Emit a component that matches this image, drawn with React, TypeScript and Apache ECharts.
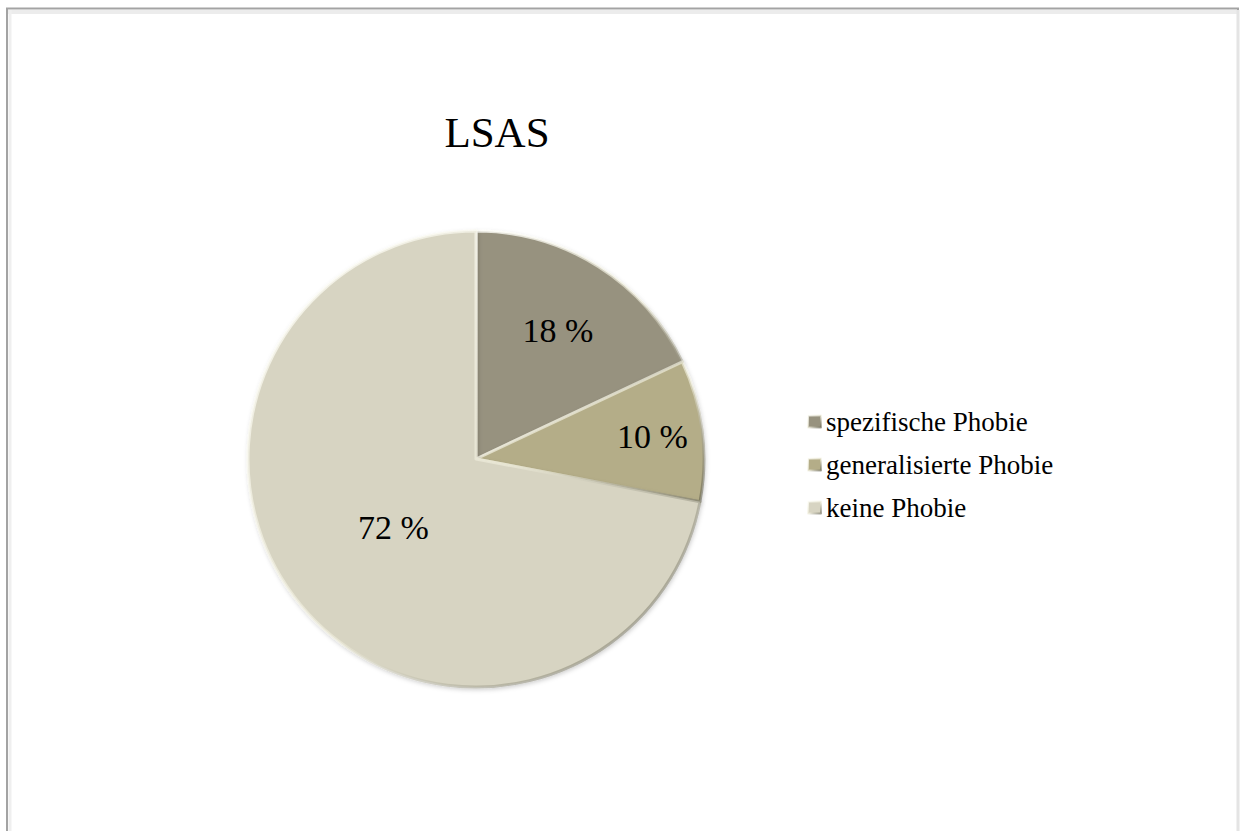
import React, { useEffect, useRef } from "react";
import * as echarts from "echarts";

const categories = ["spezifische Phobie", "generalisierte Phobie", "keine Phobie"];
const shares = [18, 10, 72];
const sliceColors = ["#97927f", "#b4ad88", "#d7d4c2"];
const chartTitle = "LSAS";

const SERIF = '"Liberation Serif", "Times New Roman", serif';
const CENTER: [number, number] = [476, 459];
const RADIUS = 228;
// how far out along each slice's bisector its percentage label sits (fraction of radius)
const labelRadiusFractions = [0.67, 0.78, 0.47];

export default function App() {
  const ref = useRef<HTMLDivElement>(null);

  useEffect(() => {
    if (!ref.current) return;
    const chart = echarts.init(ref.current, undefined, { renderer: "svg" });
    const total = shares.reduce((a, b) => a + b, 0);

    const midAngle = (i: number) => {
      let before = 0;
      for (let k = 0; k < i; k++) before += shares[k];
      const frac = (before + shares[i] / 2) / total;
      return ((90 - 360 * frac) * Math.PI) / 180;
    };

    chart.setOption({
      animation: false,
      backgroundColor: "#ffffff",
      title: {
        text: chartTitle,
        left: 492,
        top: 106,
        textAlign: "center",
        textStyle: { fontFamily: SERIF, fontSize: 43, fontWeight: "normal", color: "#000" },
      },
      legend: {
        orient: "vertical",
        left: 807,
        top: 406,
        padding: 0,
        icon: "rect",
        itemWidth: 13,
        itemHeight: 12,
        itemGap: 12,
        data: categories,
        textStyle: { fontFamily: SERIF, fontSize: 27, color: "#000", lineHeight: 31 },
      },
      graphic: [
        {
          type: "rect",
          shape: { x: 7, y: 8.5, width: 1231, height: 840 },
          style: { fill: "none", stroke: "#a3a3a3", lineWidth: 2 },
          silent: true,
        },
        {
          type: "line",
          shape: { x1: 8, y1: 12, x2: 1238, y2: 12 },
          style: { stroke: "#ececec", lineWidth: 4 },
          silent: true,
        },
        {
          type: "line",
          shape: { x1: 10, y1: 10, x2: 10, y2: 831 },
          style: { stroke: "#efefef", lineWidth: 3 },
          silent: true,
        },
        {
          type: "line",
          shape: { x1: 1238, y1: 10, x2: 1238, y2: 831 },
          style: { stroke: "#e4e4e4", lineWidth: 3 },
          silent: true,
        },
      ],
      series: [
        {
          type: "pie",
          center: CENTER,
          radius: RADIUS,
          startAngle: 90,
          clockwise: true,
          avoidLabelOverlap: false,
          data: categories.map((name, i) => ({
            name,
            value: shares[i],
            itemStyle: { color: sliceColors[i] },
          })),
          itemStyle: {
            borderWidth: 3,
            borderColor: new echarts.graphic.LinearGradient(0, 0, 1, 1, [
              { offset: 0, color: "rgba(255,255,250,0.8)" },
              { offset: 0.55, color: "rgba(240,238,220,0.6)" },
              { offset: 1, color: "rgba(80,78,60,0.5)" },
            ]),
            shadowBlur: 4,
            shadowColor: "rgba(0,0,0,0.2)",
            shadowOffsetX: 1,
            shadowOffsetY: 2,
          },
          label: {
            show: true,
            position: "inside",
            formatter: (p: any) => `${p.value} %`,
            fontFamily: SERIF,
            fontSize: 34,
            color: "#000",
          },
          labelLine: { show: false },
          labelLayout: (p: any) => {
            const i = p.dataIndex;
            const a = midAngle(i);
            const r = RADIUS * labelRadiusFractions[i];
            return {
              x: CENTER[0] + r * Math.cos(a),
              y: CENTER[1] - r * Math.sin(a),
              align: "center",
              verticalAlign: "middle",
            };
          },
          emphasis: { disabled: true },
        },
      ],
    });

    return () => chart.dispose();
  }, []);

  return (
    <div
      ref={ref}
      style={{ position: "fixed", left: 0, top: 0, width: 1240, height: 831 }}
    />
  );
}
